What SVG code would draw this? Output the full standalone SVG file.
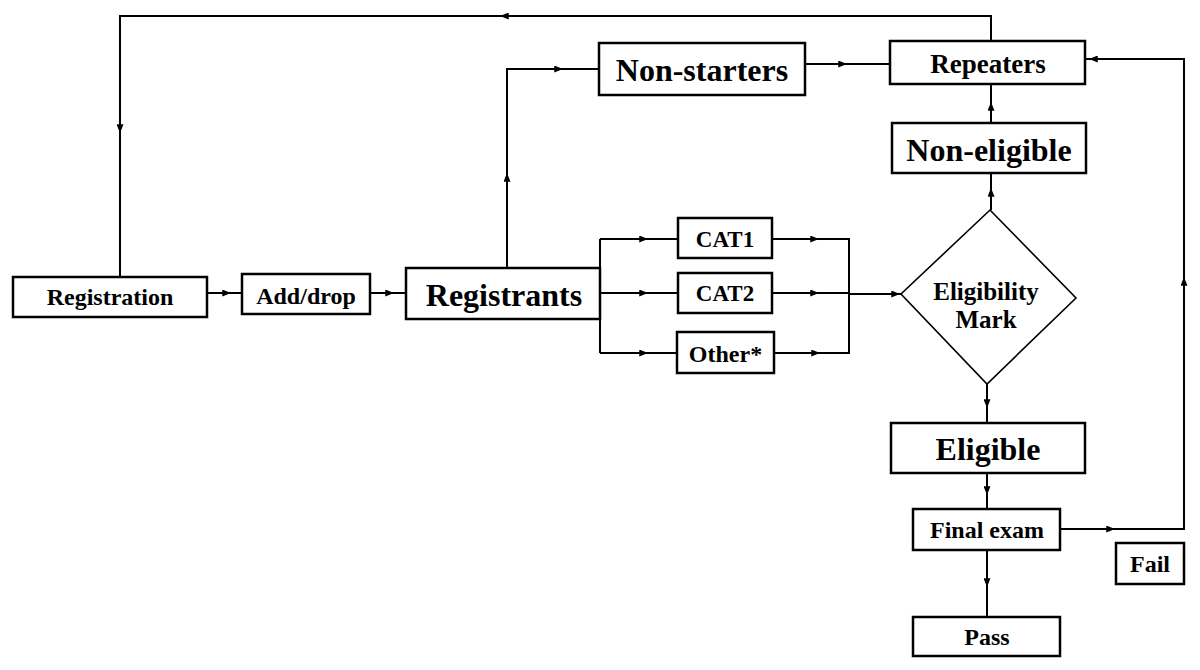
<svg xmlns="http://www.w3.org/2000/svg" width="1200" height="670" viewBox="0 0 1200 670">
<style>
.box{fill:#fff;stroke:#000;stroke-width:2.5}
.dia{fill:#fff;stroke:#000;stroke-width:1.6}
.ln{fill:none;stroke:#000;stroke-width:2}
.t{font-family:"Liberation Serif","Times New Roman",serif;font-weight:bold;text-anchor:middle;fill:#000}
.s{font-size:24px}
.m{font-size:27px}
.l{font-size:32px}
</style>
<defs>
<marker id="arr" viewBox="0 0 10 8" refX="10" refY="4" markerWidth="9" markerHeight="7" markerUnits="userSpaceOnUse" orient="auto">
<path d="M0,0 L10,4 L0,8 z" fill="#000"/>
</marker>
</defs>
<rect width="1200" height="670" fill="#fff"/>
<g id="connectors">
<path class="ln" d="M991,41 V16 H120 V277"/>
<path class="ln" d="M207,293 H242"/>
<path class="ln" d="M370,293 H406"/>
<path class="ln" d="M507,268 V69 H599"/>
<path class="ln" d="M805,64 H890"/>
<path class="ln" d="M991,123 V84"/>
<path class="ln" d="M991,210 V173"/>
<path class="ln" d="M1060,529 H1184 V59 H1085"/>
<path class="ln" d="M600,239 V353"/>
<path class="ln" d="M600,239 H678"/>
<path class="ln" d="M600,293 H678"/>
<path class="ln" d="M600,353 H677"/>
<path class="ln" d="M772,239 H849 V353 H774"/>
<path class="ln" d="M772,293 H849"/>
<path class="ln" d="M849,294 H901"/>
<path class="ln" d="M987,384 V423"/>
<path class="ln" d="M987,473 V509"/>
<path class="ln" d="M987,550 V617"/>
<!-- arrowheads -->
<path class="ln" d="M510,16 H500" marker-end="url(#arr)"/>
<path class="ln" d="M120,123 V133" marker-end="url(#arr)"/>
<path class="ln" d="M220,293 H231" marker-end="url(#arr)"/>
<path class="ln" d="M384,293 H394" marker-end="url(#arr)"/>
<path class="ln" d="M507,183 V173" marker-end="url(#arr)"/>
<path class="ln" d="M553,69 H563" marker-end="url(#arr)"/>
<path class="ln" d="M837,64 H847" marker-end="url(#arr)"/>
<path class="ln" d="M991,112 V102" marker-end="url(#arr)"/>
<path class="ln" d="M991,198 V188" marker-end="url(#arr)"/>
<path class="ln" d="M1184,287 V277" marker-end="url(#arr)"/>
<path class="ln" d="M1099,59 H1089" marker-end="url(#arr)"/>
<path class="ln" d="M638,239 H648" marker-end="url(#arr)"/>
<path class="ln" d="M638,293 H648" marker-end="url(#arr)"/>
<path class="ln" d="M638,353 H648" marker-end="url(#arr)"/>
<path class="ln" d="M809,239 H819" marker-end="url(#arr)"/>
<path class="ln" d="M809,293 H819" marker-end="url(#arr)"/>
<path class="ln" d="M810,353 H820" marker-end="url(#arr)"/>
<path class="ln" d="M890,294 H900" marker-end="url(#arr)"/>
<path class="ln" d="M987,398 V408" marker-end="url(#arr)"/>
<path class="ln" d="M987,485 V495" marker-end="url(#arr)"/>
<path class="ln" d="M1105,529 H1115" marker-end="url(#arr)"/>
<path class="ln" d="M987,577 V587" marker-end="url(#arr)"/>
</g>
<g id="registration"><rect class="box" x="13" y="277" width="194" height="40"/><text class="t s" x="110" y="305">Registration</text></g>
<g id="adddrop"><rect class="box" x="242" y="274" width="128" height="40"/><text class="t s" x="306" y="304">Add/drop</text></g>
<g id="registrants"><rect class="box" x="406" y="268" width="194" height="51"/><text class="t l" x="504" y="306">Registrants</text></g>
<g id="nonstarters"><rect class="box" x="599" y="43" width="206" height="52"/><text class="t l" x="702" y="81">Non-starters</text></g>
<g id="repeaters"><rect class="box" x="890" y="41" width="195" height="43"/><text class="t m" x="988" y="73">Repeaters</text></g>
<g id="noneligible"><rect class="box" x="892" y="123" width="194" height="50"/><text class="t l" x="989" y="161">Non-eligible</text></g>
<g id="cat1"><rect class="box" x="678" y="218" width="94" height="40"/><text class="t" style="font-size:23px" x="725" y="247">CAT1</text></g>
<g id="cat2"><rect class="box" x="678" y="273" width="94" height="40"/><text class="t" style="font-size:23px" x="725" y="301">CAT2</text></g>
<g id="other"><rect class="box" x="677" y="332" width="97" height="41"/><text class="t s" x="725.5" y="362">Other*</text></g>
<g id="eligibilitymark"><polygon class="dia" points="990,210 1076,298 987,384 901,294"/><text class="t" style="font-size:25px" x="986" y="300">Eligibility</text><text class="t" style="font-size:25px" x="986" y="328">Mark</text></g>
<g id="eligible"><rect class="box" x="891" y="423" width="194" height="50"/><text class="t l" x="988" y="460">Eligible</text></g>
<g id="finalexam"><rect class="box" x="913" y="509" width="147" height="41"/><text class="t s" x="987" y="538">Final exam</text></g>
<g id="fail"><rect class="box" x="1116" y="543" width="68" height="41"/><text class="t s" x="1150" y="572">Fail</text></g>
<g id="pass"><rect class="box" x="913" y="617" width="147" height="39"/><text class="t s" x="987" y="645">Pass</text></g>
</svg>
